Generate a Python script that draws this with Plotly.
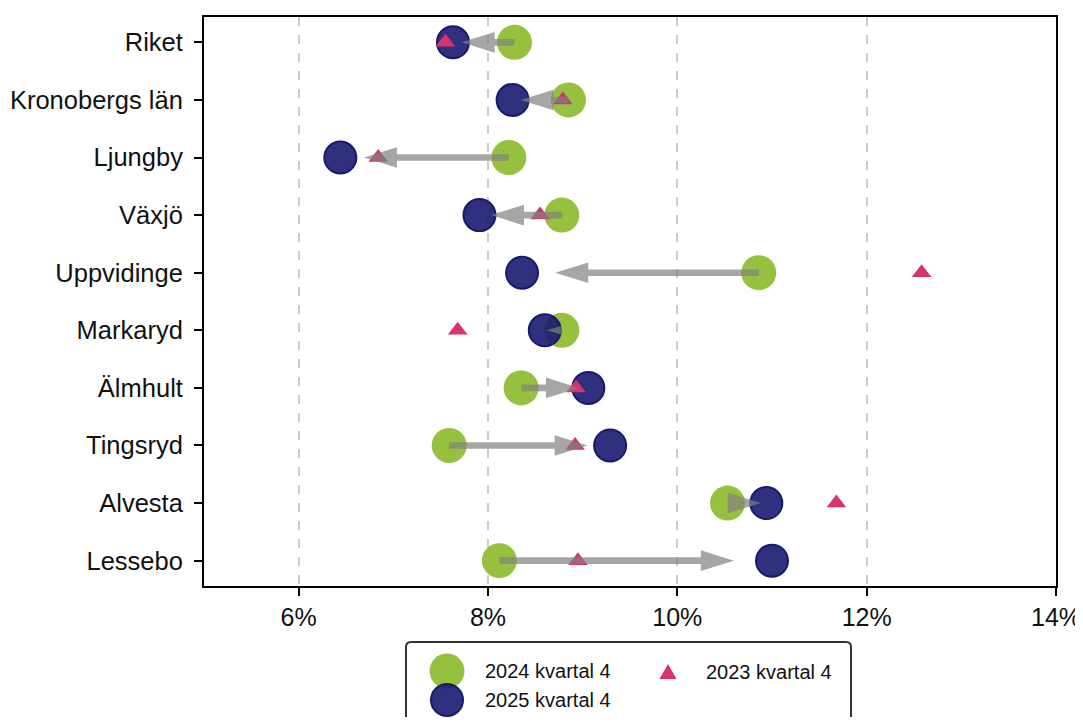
import plotly.graph_objects as go

# ---- data ----
categories = ["Riket", "Kronobergs län", "Ljungby", "Växjö", "Uppvidinge",
              "Markaryd", "Älmhult", "Tingsryd", "Alvesta", "Lessebo"]
q4_2024 = [8.28, 8.85, 8.22, 8.78, 10.86, 8.78, 8.35, 7.59, 10.53, 8.12]
q4_2025 = [7.63, 8.26, 6.44, 7.91, 8.36, 8.60, 9.06, 9.29, 10.94, 11.00]
q4_2023 = [7.55, 8.79, 6.84, 8.55, 12.58, 7.68, 8.93, 8.92, 11.68, 8.95]
x_ticks = [6, 8, 10, 12, 14]
series_names = ["2024 kvartal 4", "2025 kvartal 4", "2023 kvartal 4"]

# ---- style / layout constants ----
OFF = 8                      # page (body) offset of the figure
W, H = 1083 - OFF, 725 - 2 * OFF
ML, MT = 204 - OFF, 17 - OFF
PW, PH = 852, 569
MR, MB = W - ML - PW, H - MT - PH
XR = [5, 14]
YR = [9.44, -0.44]
FONT = "Liberation Sans, Arial, sans-serif"
GREEN = "#96c13e"
NAVY_FILL = "rgba(25,25,112,0.9)"
NAVY_EDGE = "#191970"
PINK = "#d6336f"
ARROW = "rgba(128,128,128,0.7)"

px_per_x = PW / (XR[1] - XR[0])
px_per_y = PH / abs(YR[0] - YR[1])
HEAD_LEN = 33 / px_per_x
HEAD_HALF = 10.3 / px_per_y
SHAFT_HALF = 3.3 / px_per_y
ARROW_FRAC = 0.86

ypos = list(range(len(categories)))

# arrow polygons from 2024 to 2025 values
ax_x, ax_y = [], []
for i, (g, n) in enumerate(zip(q4_2024, q4_2025)):
    L = ARROW_FRAC * (n - g)
    d = 1 if L >= 0 else -1
    length = abs(L)
    hl, hw = HEAD_LEN, HEAD_HALF
    if length < hl:
        s = length / hl
        hl = length
        hw = max(HEAD_HALF * s, SHAFT_HALF)
    tip = g + L
    back = tip - d * hl
    pts = [(g, i - SHAFT_HALF), (back, i - SHAFT_HALF), (back, i - hw), (tip, i),
           (back, i + hw), (back, i + SHAFT_HALF), (g, i + SHAFT_HALF), (g, i - SHAFT_HALF)]
    for x, y in pts:
        ax_x.append(x)
        ax_y.append(y)
    ax_x.append(None)
    ax_y.append(None)

fig = go.Figure()
fig.add_trace(go.Scatter(x=q4_2024, y=ypos, mode="markers", name=series_names[0],
                         marker=dict(size=35, color=GREEN, line=dict(width=0)),
                         hoverinfo="skip"))
fig.add_trace(go.Scatter(x=q4_2025, y=ypos, mode="markers", name=series_names[1],
                         marker=dict(size=32, color=NAVY_FILL, line=dict(width=2, color=NAVY_EDGE)),
                         hoverinfo="skip"))
fig.add_trace(go.Scatter(x=q4_2023, y=ypos, mode="markers", name=series_names[2],
                         marker=dict(symbol="triangle-up", size=17, color=PINK, line=dict(width=0)),
                         hoverinfo="skip"))
fig.add_trace(go.Scatter(x=ax_x, y=ax_y, mode="lines", fill="toself", fillcolor=ARROW,
                         line=dict(width=0, color=ARROW), hoverinfo="skip"))


def px2paper(px, py):
    """page pixel -> paper fraction"""
    return (px - OFF - ML) / PW, (OFF + MT + PH - py) / PH


shapes = []
annotations = []

# legend box with rounded corners
bx0, bx1, by0, by1, r = 406, 851, 642, 745, 5
def P(px, py):
    x, y = px2paper(px, py)
    return f"{x:.5f},{y:.5f}"
path = (f"M{P(bx0 + r, by0)} L{P(bx1 - r, by0)} Q{P(bx1, by0)} {P(bx1, by0 + r)} "
        f"L{P(bx1, by1)} L{P(bx0, by1)} L{P(bx0, by0 + r)} Q{P(bx0, by0)} {P(bx0 + r, by0)} Z")
shapes.append(dict(type="path", xref="paper", yref="paper", path=path,
                   line=dict(color="#333333", width=2), fillcolor="rgba(255,255,255,0.85)",
                   layer="above"))

# legend symbols
gx, gy = px2paper(447, 671)
shapes.append(dict(type="circle", xref="paper", yref="paper", xsizemode="pixel", ysizemode="pixel",
                   xanchor=gx, yanchor=gy, x0=-17.5, x1=17.5, y0=-17.5, y1=17.5,
                   fillcolor=GREEN, line=dict(width=0), layer="above"))
nx, ny = px2paper(447, 700)
shapes.append(dict(type="circle", xref="paper", yref="paper", xsizemode="pixel", ysizemode="pixel",
                   xanchor=nx, yanchor=ny, x0=-16, x1=16, y0=-16, y1=16,
                   fillcolor=NAVY_FILL, line=dict(width=2, color=NAVY_EDGE), layer="above"))
tx, ty = px2paper(668, 672)
shapes.append(dict(type="path", xref="paper", yref="paper", xsizemode="pixel", ysizemode="pixel",
                   xanchor=tx, yanchor=ty, path="M-8.5,-7 L8.5,-7 L0,8 Z",
                   fillcolor=PINK, line=dict(width=0), layer="above"))

for name, (px, py) in zip(series_names, [(483, 671), (483, 700), (704, 672)]):
    x, y = px2paper(px, py)
    annotations.append(dict(text=name, x=x, y=y, xref="paper", yref="paper",
                            xanchor="left", yanchor="middle", showarrow=False,
                            font=dict(family=FONT, size=20, color="#111111")))

fig.update_layout(
    width=W, height=H,
    margin=dict(l=ML, r=MR, t=MT, b=MB, autoexpand=False),
    paper_bgcolor="white", plot_bgcolor="white",
    showlegend=False,
    font=dict(family=FONT, color="#111111"),
    shapes=shapes, annotations=annotations,
)
fig.update_xaxes(range=XR, tickvals=x_ticks, ticktext=[f"{v}%" for v in x_ticks],
                 showgrid=True, gridcolor="#cccccc", gridwidth=1.5, griddash="dash",
                 zeroline=False, showline=True, mirror=True, linecolor="black", linewidth=2,
                 ticks="outside", ticklen=8, tickwidth=1.5, tickcolor="black",
                 automargin=False, ticklabeloverflow="allow",
                 tickfont=dict(family=FONT, size=25, color="#111111"))
fig.update_yaxes(range=YR, tickvals=ypos, ticktext=categories,
                 showgrid=False, zeroline=False, showline=True, mirror=True,
                 linecolor="black", linewidth=2,
                 ticks="outside", ticklen=8, tickwidth=1.5, tickcolor="black",
                 ticklabelstandoff=6, automargin=False,
                 tickfont=dict(family=FONT, size=25.5, color="#111111"))

fig.write_html("out.html")
